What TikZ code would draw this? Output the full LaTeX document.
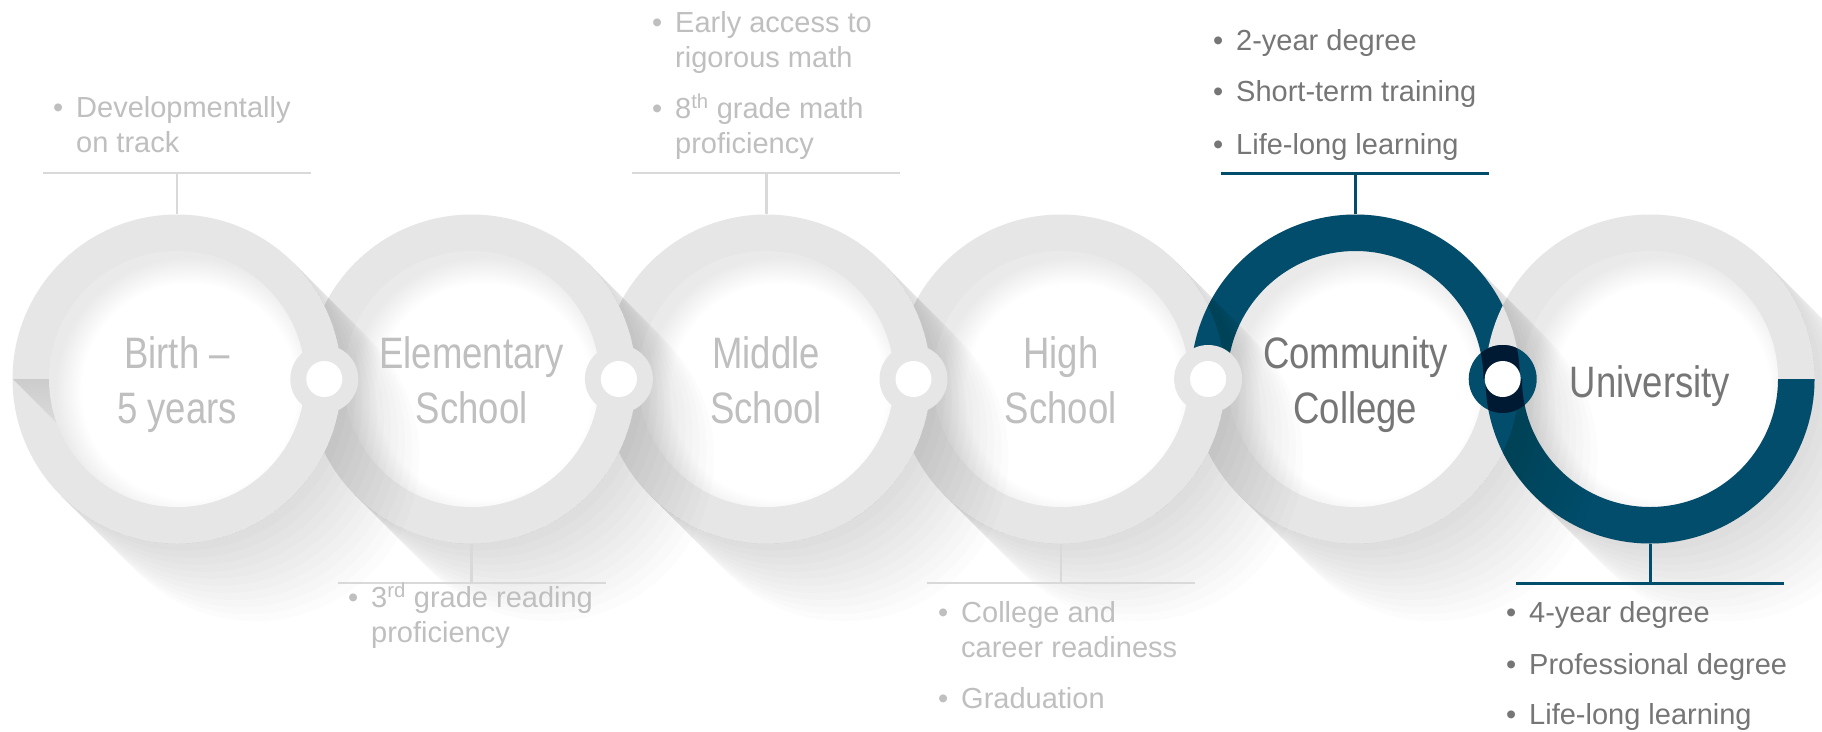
\documentclass[tikz,border=0pt]{standalone}
\usepackage{fontspec}
\setmainfont{Liberation Sans}
\newfontfamily\labelfont[FakeStretch=0.83]{Liberation Sans}
\usetikzlibrary{calc}
\definecolor{ringgrey}{HTML}{E6E6E6}
\definecolor{diskgrey}{HTML}{EAEAEA}
\definecolor{lighttext}{HTML}{BFBFBF}
\definecolor{darktext}{HTML}{767676}
\definecolor{linegrey}{HTML}{D9D9D9}
\definecolor{tealblue}{HTML}{024D6C}
\definecolor{navy}{HTML}{011A33}
\pgfdeclareradialshading{insh}{\pgfpoint{0bp}{0bp}}{color(0bp)=(white); color(20bp)=(white); color(25bp)=(diskgrey); color(50bp)=(diskgrey)}
\newcommand\myring[1]{%
  \fill[ringgrey] (#1) circle[radius=164.5];
  \begin{scope}
    \clip (#1) circle[radius=128];
    \fill[diskgrey] (#1) circle[radius=128];
    \shade[shading=insh] ($(#1)+(12,12)$) circle[radius=134];
  \end{scope}}
\newcommand\myshadow[1]{%
  \foreach \L in {10,20,...,110}{%
  \fill[black, opacity=0.011]
    ($(#1)+(-45:164.5)$) -- ++(45:\L) arc[start angle=-45, end angle=135, radius=164.5]
    -- ++(225:\L) arc[start angle=135, end angle=-45, radius=164.5] -- cycle;}}
\begin{document}
\begin{tikzpicture}[x=1pt, y=-1pt,
  ringnode/.style={circle, minimum size=329pt, inner sep=0pt},
  greyline/.style={linegrey, line width=2.6pt},
  blueline/.style={tealblue, line width=3pt},
  lbl/.style={anchor=base, inner sep=0pt, font=\labelfont\fontsize{44}{55}\selectfont},
  bul/.style={anchor=base west, inner sep=0pt, font=\fontsize{29}{35}\selectfont},
  ]
\useasboundingbox (0,0) rectangle (1822,731);
\fill[white] (0,0) rectangle (1822,731);

% ring anchor nodes
\node[ringnode] (r1) at (177,379) {};
\node[ringnode] (r2) at (471.6,379) {};
\node[ringnode] (r3) at (766.2,379) {};
\node[ringnode] (r4) at (1060.8,379) {};
\node[ringnode] (r5) at (1355.4,379) {};
\node[ringnode] (r6) at (1650,379) {};

% rings
\fill[ringgrey] (r1.center) circle[radius=164.5];
\begin{scope}
  \clip (r1.center) circle[radius=164.5];
  \shade[top color=black!20, bottom color=ringgrey] (13,379) -- (90,379) -- (90,456) -- cycle;
\end{scope}
\begin{scope}
  \clip (r1.center) circle[radius=128];
  \fill[diskgrey] (r1.center) circle[radius=128];
  \shade[shading=insh] ($(r1.center)+(12,12)$) circle[radius=134];
\end{scope}
\myring{r2.center}
\myring{r3.center}
\myring{r4.center}
\myring{r5.center}
\fill[tealblue] ($(r5.center)+(-164.5,0)$) arc[start angle=180, end angle=360, radius=164.5]
  -- ++(-36.5,0) arc[start angle=360, end angle=180, radius=128] -- cycle;
\myring{r6.center}
\fill[tealblue] ($(r6.center)+(164.5,0)$) arc[start angle=0, end angle=180, radius=164.5]
  -- ++(36.5,0) arc[start angle=180, end angle=0, radius=128] -- cycle;

% long shadows
\myshadow{r1.center}
\myshadow{r2.center}
\myshadow{r3.center}
\myshadow{r4.center}
\myshadow{r5.center}
\myshadow{r6.center}

% joints
\node[circle, fill=ringgrey, minimum size=68pt, inner sep=0pt] (j1) at (324.3,379) {};
\node[circle, fill=ringgrey, minimum size=68pt, inner sep=0pt] (j2) at (618.9,379) {};
\node[circle, fill=ringgrey, minimum size=68pt, inner sep=0pt] (j3) at (913.5,379) {};
\node[circle, fill=ringgrey, minimum size=68pt, inner sep=0pt] (j4) at (1208.1,379) {};
\node[circle, fill=tealblue, minimum size=68pt, inner sep=0pt] (j5) at (1502.7,379) {};
\begin{scope}
  \clip (j5.center) circle[radius=34];
  \fill[navy] ($(r5.center)+(-164.5,0)$) arc[start angle=180, end angle=360, radius=164.5]
    -- ++(-36.5,0) arc[start angle=360, end angle=180, radius=128] -- cycle;
  \fill[navy] ($(r6.center)+(164.5,0)$) arc[start angle=0, end angle=180, radius=164.5]
    -- ++(36.5,0) arc[start angle=180, end angle=0, radius=128] -- cycle;
\end{scope}
\foreach \j in {j1,j2,j3,j4,j5} \fill[white] (\j.center) circle[radius=18];

% leader lines
\coordinate (t1) at (177,173);   \coordinate (t3) at (766.2,173);  \coordinate (t5) at (1355.4,173);
\coordinate (b2) at (471.6,583); \coordinate (b4) at (1060.8,583); \coordinate (b6) at (1650,583);
\draw[greyline] (t1) -- (r1.north);
\draw[greyline] ($(t1)+(-134,0)$) -- ($(t1)+(134,0)$);
\draw[greyline] (t3) -- (r3.north);
\draw[greyline] ($(t3)+(-134,0)$) -- ($(t3)+(134,0)$);
\draw[blueline] (t5) -- (r5.north);
\draw[blueline] ($(t5)+(-134,0)$) -- ($(t5)+(134,0)$);
\draw[greyline] (r2.south) -- (b2);
\draw[greyline] ($(b2)+(-134,0)$) -- ($(b2)+(134,0)$);
\draw[greyline] (r4.south) -- (b4);
\draw[greyline] ($(b4)+(-134,0)$) -- ($(b4)+(134,0)$);
\draw[blueline] (r6.south) -- (b6);
\draw[blueline] ($(b6)+(-134,0)$) -- ($(b6)+(134,0)$);

% ring labels
\node[lbl, text=lighttext] (l1) at (177,368) {\parbox[t]{280pt}{\centering Birth –\\5 years}};
\node[lbl, text=lighttext] (l2) at (471.6,368) {\parbox[t]{280pt}{\centering Elementary\\School}};
\node[lbl, text=lighttext] (l3) at (766.2,368) {\parbox[t]{280pt}{\centering Middle\\School}};
\node[lbl, text=lighttext] (l4) at (1060.8,368) {\parbox[t]{280pt}{\centering High\\School}};
\node[lbl, text=darktext] (l5) at (1355.4,368) {\parbox[t]{280pt}{\centering Community\\College}};
\node[lbl, text=darktext] (l6) at (1650,397) {University};

% bullet texts
\node[bul, text=lighttext] (a1) at (53,117) {\makebox[23pt][l]{•}\parbox[t]{300pt}{Developmentally\\on track}};
\node[bul, text=lighttext] (c1) at (652,32) {\makebox[23pt][l]{•}\parbox[t]{300pt}{Early access to\\rigorous math}};
\node[bul, text=lighttext] (c2) at (652,118) {\makebox[23pt][l]{•}\parbox[t]{300pt}{8\textsuperscript{th} grade math\\proficiency}};
\node[bul, text=darktext] (e1) at (1213,50) {\makebox[23pt][l]{•}2-year degree};
\node[bul, text=darktext] (e2) at (1213,101) {\makebox[23pt][l]{•}Short-term training};
\node[bul, text=darktext] (e3) at (1213,154) {\makebox[23pt][l]{•}Life-long learning};
\node[bul, text=lighttext] (b1) at (348,607) {\makebox[23pt][l]{•}\parbox[t]{300pt}{3\textsuperscript{rd} grade reading\\proficiency}};
\node[bul, text=lighttext] (d1) at (938,622) {\makebox[23pt][l]{•}\parbox[t]{300pt}{College and\\career readiness}};
\node[bul, text=lighttext] (d2) at (938,708) {\makebox[23pt][l]{•}Graduation};
\node[bul, text=darktext] (f1) at (1506,622) {\makebox[23pt][l]{•}4-year degree};
\node[bul, text=darktext] (f2) at (1506,674) {\makebox[23pt][l]{•}Professional degree};
\node[bul, text=darktext] (f3) at (1506,724) {\makebox[23pt][l]{•}Life-long learning};
\end{tikzpicture}
\end{document}
